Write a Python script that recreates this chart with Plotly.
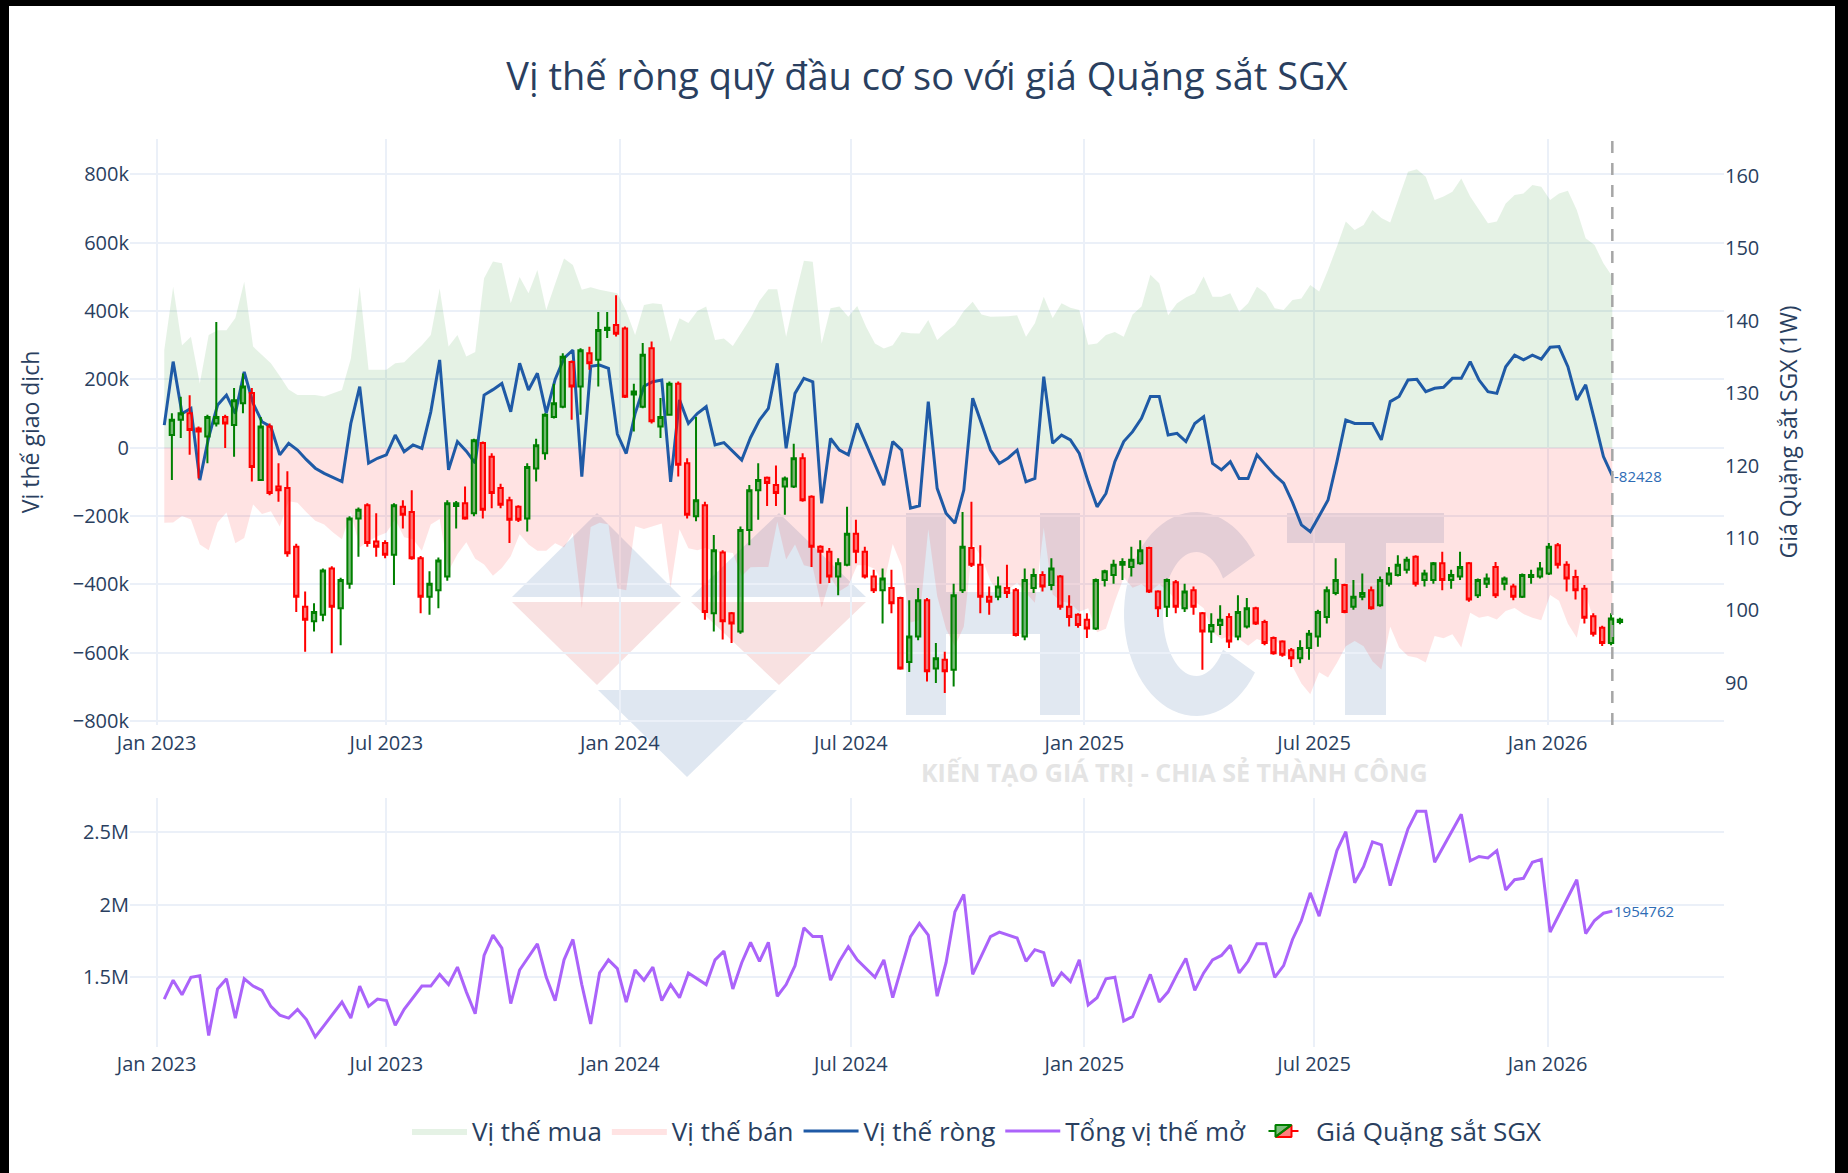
import numpy as np
import pandas as pd
import plotly.graph_objects as go

# ---------------- data ----------------
position_dates = pd.date_range("2023-01-07", periods=164, freq="7D")
candle_dates = pd.date_range("2023-01-13", periods=164, freq="7D")

long_pos = [
    286000, 471000, 300000, 325000, 188000, 330000, 344000, 344000, 380000, 486000,
    296000, 270000, 247000, 210000, 170000, 154000, 154000, 154000, 150000, 160000,
    169000, 260000, 471000, 228000, 228000, 228000, 247000, 250000, 276000, 300000,
    330000, 466000, 296000, 330000, 267000, 280000, 496000, 545000, 540000, 423000,
    500000, 452000, 520000, 403000, 480000, 554000, 535000, 462000, 470000, 462000,
    457000, 452000, 400000, 330000, 418000, 423000, 420000, 310000, 379000, 365000,
    400000, 413000, 315000, 320000, 298000, 340000, 380000, 430000, 464000, 464000,
    325000, 442000, 547000, 544000, 305000, 408000, 413000, 383000, 415000, 354000,
    305000, 290000, 300000, 339000, 335000, 334000, 374000, 315000, 339000, 360000,
    400000, 427000, 390000, 383000, 383000, 385000, 388000, 325000, 364000, 442000,
    380000, 423000, 410000, 403000, 301000, 305000, 330000, 339000, 325000, 390000,
    413000, 506000, 481000, 388000, 423000, 440000, 452000, 501000, 442000, 442000,
    452000, 398000, 423000, 471000, 452000, 408000, 403000, 432000, 437000, 476000,
    457000, 520000, 589000, 662000, 637000, 652000, 696000, 672000, 659000, 735000,
    808000, 815000, 793000, 725000, 735000, 749000, 788000, 735000, 696000, 657000,
    662000, 715000, 740000, 744000, 769000, 764000, 725000, 744000, 752000, 696000,
    613000, 593000, 540000, 501000,
]

short_pos = [
    -220000, -219000, -200000, -210000, -283000, -300000, -219000, -190000, -280000, -264000,
    -166000, -194000, -186000, -231000, -157000, -161000, -189000, -214000, -225000, -248000,
    -268000, -189000, -292000, -273000, -259000, -249000, -210000, -262000, -268000, -302000,
    -225000, -209000, -361000, -312000, -277000, -325000, -342000, -375000, -352000, -318000,
    -253000, -283000, -302000, -302000, -280000, -292000, -249000, -470000, -232000, -220000,
    -225000, -412000, -417000, -230000, -238000, -230000, -222000, -410000, -239000, -294000,
    -300000, -293000, -307000, -305000, -308000, -376000, -350000, -349000, -349000, -217000,
    -327000, -283000, -344000, -351000, -468000, -381000, -420000, -404000, -344000, -344000,
    -355000, -400000, -282000, -346000, -512000, -504000, -239000, -434000, -531000, -581000,
    -524000, -282000, -320000, -390000, -429000, -415000, -395000, -425000, -454000, -234000,
    -430000, -450000, -455000, -480000, -470000, -540000, -530000, -450000, -380000, -410000,
    -400000, -420000, -400000, -420000, -450000, -480000, -450000, -470000, -540000, -560000,
    -550000, -560000, -580000, -560000, -570000, -560000, -590000, -640000, -690000, -722000,
    -657000, -673000, -630000, -581000, -566000, -581000, -625000, -649000, -524000, -585000,
    -610000, -615000, -629000, -551000, -558000, -546000, -585000, -483000, -498000, -493000,
    -503000, -478000, -469000, -487000, -498000, -505000, -431000, -448000, -515000, -556000,
    -429000, -512000, -566000, -583000,
]

net_pos = [
    66000, 252000, 100000, 115000, -95000, 30000, 125000, 154000, 100000, 222000,
    130000, 76000, 61000, -21000, 13000, -7000, -35000, -60000, -75000, -88000,
    -99000, 71000, 179000, -45000, -31000, -21000, 37000, -12000, 8000, -2000,
    105000, 257000, -65000, 18000, -10000, -45000, 154000, 170000, 188000, 105000,
    247000, 169000, 218000, 101000, 200000, 262000, 286000, -85000, 238000, 242000,
    232000, 40000, -17000, 100000, 180000, 193000, 198000, -100000, 140000, 71000,
    100000, 120000, 8000, 15000, -10000, -36000, 30000, 81000, 115000, 247000,
    -2000, 159000, 203000, 193000, -163000, 27000, -7000, -21000, 71000, 10000,
    -50000, -110000, 18000, -7000, -177000, -170000, 135000, -119000, -192000, -221000,
    -124000, 145000, 70000, -7000, -46000, -30000, -7000, -100000, -90000, 208000,
    13000, 37000, 23000, -17000, -100000, -173000, -134000, -41000, 18000, 47000,
    86000, 150000, 150000, 37000, 42000, 18000, 71000, 91000, -46000, -65000,
    -41000, -90000, -90000, -21000, -51000, -80000, -104000, -160000, -226000, -246000,
    -200000, -153000, -41000, 81000, 71000, 71000, 71000, 23000, 135000, 150000,
    198000, 200000, 164000, 174000, 177000, 203000, 203000, 252000, 198000, 164000,
    159000, 237000, 271000, 257000, 271000, 259000, 294000, 296000, 237000, 140000,
    184000, 81000, -26000, -82428,
]

open_interest = [
    1350000, 1480000, 1380000, 1500000, 1510000, 1100000, 1420000, 1490000, 1220000, 1490000,
    1440000, 1410000, 1300000, 1240000, 1220000, 1280000, 1210000, 1090000, 1170000, 1250000,
    1330000, 1220000, 1440000, 1300000, 1350000, 1340000, 1170000, 1280000, 1360000, 1440000,
    1440000, 1520000, 1450000, 1570000, 1400000, 1250000, 1650000, 1790000, 1700000, 1320000,
    1550000, 1640000, 1730000, 1500000, 1340000, 1620000, 1760000, 1450000, 1180000, 1530000,
    1620000, 1560000, 1330000, 1550000, 1480000, 1570000, 1340000, 1450000, 1360000, 1530000,
    1490000, 1450000, 1620000, 1680000, 1420000, 1600000, 1740000, 1610000, 1740000, 1370000,
    1450000, 1580000, 1840000, 1780000, 1780000, 1480000, 1610000, 1710000, 1620000, 1560000,
    1500000, 1620000, 1360000, 1570000, 1780000, 1870000, 1790000, 1370000, 1600000, 1950000,
    2070000, 1520000, 1650000, 1780000, 1810000, 1790000, 1770000, 1610000, 1690000, 1670000,
    1440000, 1530000, 1470000, 1620000, 1310000, 1360000, 1490000, 1500000, 1200000, 1230000,
    1380000, 1520000, 1330000, 1400000, 1520000, 1630000, 1410000, 1530000, 1620000, 1650000,
    1720000, 1530000, 1610000, 1730000, 1730000, 1500000, 1580000, 1760000, 1890000, 2080000,
    1920000, 2150000, 2370000, 2500000, 2150000, 2260000, 2430000, 2410000, 2130000, 2330000,
    2520000, 2640000, 2640000, 2290000, 2400000, 2510000, 2620000, 2300000, 2330000, 2320000,
    2370000, 2100000, 2170000, 2180000, 2290000, 2310000, 1810000, 1930000, 2050000, 2170000,
    1800000, 1890000, 1940000, 1954762,
]

price_open = [
    124.2, 126.3, 127.2, 125.1, 124.0, 125.8, 126.7, 125.6, 128.6, 130.0,
    118.0, 125.4, 117.1, 116.9, 108.8, 100.5, 98.5, 99.4, 105.8, 100.3,
    103.7, 112.7, 114.5, 109.5, 109.3, 107.7, 114.3, 113.6, 107.2, 101.9,
    102.8, 104.7, 114.4, 114.8, 113.4, 123.1, 121.2, 116.9, 115.2, 114.3,
    112.7, 119.6, 121.7, 126.7, 128.1, 134.3, 130.9, 135.5, 134.6, 138.7,
    139.4, 138.9, 129.8, 128.1, 136.2, 125.4, 127.0, 131.3, 120.3, 113.0,
    114.5, 99.6, 108.0, 99.6, 97.1, 111.1, 116.6, 118.3, 117.3, 117.1,
    117.1, 121.0, 115.7, 108.8, 108.1, 104.7, 106.3, 110.6, 108.1, 104.7,
    102.8, 103.1, 101.7, 92.9, 96.4, 101.4, 92.0, 93.2, 91.8, 102.8,
    108.6, 106.3, 101.9, 101.9, 103.1, 102.8, 96.4, 103.1, 104.9, 103.5,
    104.7, 100.5, 99.4, 98.7, 97.5, 104.2, 104.9, 106.3, 106.0, 106.5,
    108.6, 102.6, 100.5, 103.9, 100.3, 102.8, 99.6, 97.1, 98.0, 99.1,
    96.4, 97.8, 100.3, 98.4, 96.2, 95.7, 94.5, 93.4, 94.8, 96.4,
    99.1, 102.4, 103.5, 100.5, 101.9, 102.8, 100.7, 103.7, 104.9, 105.6,
    107.4, 104.2, 104.2, 106.5, 104.2, 104.7, 106.5, 102.1, 103.7, 106.0,
    103.7, 103.3, 101.9, 104.6, 104.7, 105.1, 109.0, 106.3, 104.6, 103.0,
    99.2, 97.6, 95.5, 98.4,
]
price_high = [
    127.2, 129.5, 129.7, 125.4, 127.0, 139.8, 127.0, 130.7, 132.7, 130.7,
    126.7, 125.8, 120.3, 119.2, 109.2, 102.6, 101.0, 105.8, 106.1, 104.5,
    113.0, 114.2, 114.8, 113.4, 109.7, 114.8, 115.2, 116.6, 107.5, 105.4,
    107.3, 115.2, 115.1, 117.1, 123.7, 123.3, 121.7, 117.5, 115.7, 114.5,
    120.3, 123.7, 127.2, 131.3, 135.5, 134.5, 136.2, 136.4, 141.2, 141.2,
    143.5, 139.2, 131.3, 136.9, 137.1, 129.3, 131.6, 131.6, 121.0, 126.7,
    115.0, 110.4, 108.3, 99.8, 111.6, 117.3, 120.3, 118.5, 120.0, 118.5,
    123.0, 121.7, 115.9, 109.0, 108.6, 107.2, 114.3, 112.5, 108.8, 105.6,
    105.8, 105.6, 101.9, 101.4, 103.1, 101.7, 95.5, 94.3, 103.7, 113.6,
    115.0, 109.0, 103.3, 104.7, 106.3, 103.1, 105.8, 105.8, 105.4, 107.2,
    104.9, 102.1, 99.6, 99.6, 104.4, 105.6, 107.0, 107.2, 108.8, 109.7,
    108.8, 102.8, 104.4, 104.2, 103.7, 103.3, 99.8, 99.6, 100.7, 99.6,
    102.1, 101.7, 100.5, 98.7, 96.4, 95.9, 94.8, 95.9, 97.3, 100.1,
    103.3, 107.2, 103.7, 104.2, 105.1, 103.3, 104.7, 106.0, 107.6, 107.4,
    107.6, 105.6, 106.7, 108.1, 105.6, 108.1, 106.7, 104.4, 105.1, 106.7,
    104.7, 103.7, 105.1, 105.6, 106.7, 109.3, 109.3, 106.8, 105.6, 103.5,
    99.6, 97.9, 99.6, 99.0,
]
price_low = [
    118.0, 123.8, 121.5, 118.2, 120.3, 125.4, 122.4, 121.2, 127.2, 117.8,
    118.0, 115.9, 115.0, 107.4, 99.8, 94.3, 97.1, 98.5, 94.1, 95.2,
    103.0, 107.4, 108.8, 107.4, 107.2, 103.5, 111.3, 107.0, 99.6, 99.4,
    100.3, 104.1, 111.3, 112.5, 113.0, 112.7, 114.1, 114.1, 109.3, 112.2,
    110.9, 117.8, 120.8, 126.5, 127.9, 126.3, 127.0, 133.2, 130.9, 137.6,
    137.8, 129.3, 124.7, 127.9, 125.8, 123.8, 126.9, 118.5, 112.7, 112.3,
    98.7, 97.1, 96.0, 95.5, 96.8, 109.0, 112.5, 114.4, 114.4, 113.2,
    116.9, 115.0, 106.0, 103.7, 103.8, 102.1, 106.1, 106.5, 104.4, 102.4,
    98.2, 99.6, 91.8, 91.5, 95.9, 90.2, 90.0, 88.6, 89.5, 102.4,
    106.0, 99.6, 99.4, 101.4, 101.7, 96.4, 95.9, 102.4, 102.6, 102.8,
    100.1, 97.8, 97.6, 96.2, 97.3, 103.3, 103.7, 104.2, 104.7, 106.3,
    102.4, 99.1, 99.1, 99.6, 99.8, 99.4, 91.8, 95.5, 96.6, 94.8,
    95.9, 97.5, 98.0, 95.2, 93.9, 93.6, 92.2, 92.7, 93.2, 95.0,
    98.2, 102.1, 99.6, 100.1, 101.4, 100.1, 100.5, 103.3, 104.7, 105.1,
    103.3, 103.3, 103.7, 102.8, 103.0, 104.2, 101.2, 101.7, 103.1, 101.7,
    102.8, 101.4, 101.7, 103.7, 104.4, 104.9, 105.8, 102.6, 101.5, 98.2,
    96.4, 95.1, 95.2, 98.1,
]
price_close = [
    126.3, 127.2, 124.9, 124.7, 126.7, 126.7, 125.8, 129.0, 130.9, 119.8,
    125.4, 116.2, 116.6, 107.9, 101.9, 98.7, 99.8, 105.5, 100.5, 104.2,
    112.7, 113.9, 109.3, 108.8, 107.7, 114.5, 113.2, 107.2, 101.9, 103.7,
    106.9, 114.8, 114.8, 112.7, 123.5, 113.9, 116.2, 114.6, 112.5, 112.5,
    119.8, 122.8, 127.0, 128.6, 135.0, 130.9, 135.9, 134.1, 138.7, 139.0,
    138.2, 129.5, 130.2, 135.3, 126.1, 126.7, 131.3, 120.1, 113.2, 115.2,
    99.8, 108.3, 98.5, 98.2, 111.1, 116.6, 118.0, 117.6, 116.2, 118.2,
    121.0, 115.2, 108.8, 108.1, 104.7, 106.5, 110.6, 108.1, 104.7, 102.8,
    104.4, 101.0, 92.0, 96.4, 101.4, 91.6, 93.4, 91.6, 102.1, 108.8,
    106.3, 101.9, 101.2, 103.3, 102.4, 96.6, 104.2, 104.9, 103.3, 105.8,
    100.5, 99.1, 98.0, 97.5, 104.2, 105.4, 106.3, 106.7, 107.0, 108.3,
    102.6, 100.3, 104.2, 100.5, 102.6, 100.5, 97.1, 98.0, 98.7, 95.7,
    99.8, 100.3, 98.2, 95.5, 94.1, 93.9, 93.4, 94.8, 96.8, 99.8,
    102.8, 104.2, 99.8, 101.9, 102.4, 100.3, 104.2, 105.1, 106.3, 107.0,
    103.7, 105.1, 106.5, 104.2, 104.9, 106.0, 101.5, 104.2, 104.4, 102.1,
    104.4, 101.9, 104.9, 104.9, 105.8, 108.8, 106.3, 104.4, 102.8, 99.0,
    96.8, 95.5, 98.9, 98.7,
]

# ---------------- geometry helpers (pixel -> paper) ----------------
W, H = 1848, 1173
ML, MR, MT, MB = 130, 124, 139, 126
PW = W - ML - MR
PH = H - MT - MB


def px(x):
    return (x - ML) / PW


def py(y):
    return (H - MB - y) / PH


TXT = "#2a3f5f"
GRID = "#EBF0F8"

fig = go.Figure()

fig.add_trace(go.Scatter(
    x=position_dates, y=long_pos, name="Vị thế mua", mode="lines",
    line=dict(width=0, color="rgba(0,128,0,0.1)"),
    fill="tozeroy", fillcolor="rgba(0,128,0,0.1)", xaxis="x", yaxis="y"))
fig.add_trace(go.Scatter(
    x=position_dates, y=short_pos, name="Vị thế bán", mode="lines",
    line=dict(width=0, color="rgba(255,0,0,0.11)"),
    fill="tozeroy", fillcolor="rgba(255,0,0,0.11)", xaxis="x", yaxis="y"))
fig.add_trace(go.Scatter(
    x=position_dates, y=net_pos, name="Vị thế ròng", mode="lines",
    line=dict(width=3, color="#1f5aa6"), xaxis="x", yaxis="y"))
fig.add_trace(go.Scatter(
    x=position_dates, y=open_interest, name="Tổng vị thế mở", mode="lines",
    line=dict(width=3, color="#ab63fa"), xaxis="x2", yaxis="y3"))
fig.add_trace(go.Candlestick(
    x=candle_dates, open=price_open, high=price_high, low=price_low, close=price_close,
    name="Giá Quặng sắt SGX",
    increasing=dict(line=dict(color="green", width=2)),
    decreasing=dict(line=dict(color="red", width=2)),
    xaxis="x", yaxis="y2"))

x_range = ["2022-12-11", "2026-05-20"]
tickfont = dict(size=20, color=TXT)

shapes = []
# vertical dashed marker at the last position date
shapes.append(dict(type="line", xref="x", yref="y domain",
                   x0=position_dates[-1], x1=position_dates[-1], y0=0, y1=1,
                   line=dict(color="#a6a6a6", width=2.5, dash="12px,10px"), layer="above"))

# watermark (decorative logo)
BLUE_WM = "#dfe7f1"
PINK_WM = "#f8e1e1"


def poly(points, color):
    d = "M " + " L ".join(f"{px(a):.5f},{py(b):.5f}" for a, b in points) + " Z"
    return dict(type="path", xref="paper", yref="paper", path=d,
                fillcolor=color, line=dict(width=0), layer="below")


shapes.append(poly([(512, 597), (681, 597), (597, 513)], BLUE_WM))
shapes.append(poly([(691, 597), (866, 597), (779, 513)], BLUE_WM))
shapes.append(poly([(512, 602), (681, 602), (597, 685)], PINK_WM))
shapes.append(poly([(691, 602), (866, 602), (779, 685)], PINK_WM))
shapes.append(poly([(598, 690), (777, 690), (687, 777)], BLUE_WM))
LET = "#e1e8f1"
for (xa, ya, xb, yb) in [(906, 513, 946, 715), (1040, 513, 1080, 715), (946, 592, 1040, 634),
                         (1287, 513, 1444, 543), (1345, 543, 1386, 715)]:
    shapes.append(poly([(xa, ya), (xb, ya), (xb, yb), (xa, yb)], LET))
t_out = np.radians(np.linspace(35, 325, 60))
t_in = np.radians(np.linspace(325, 35, 60))
c_pts = [(1196 + 72 * np.cos(t), 614 - 102 * np.sin(t)) for t in t_out] + \
        [(1196 + 33 * np.cos(t), 614 - 62 * np.sin(t)) for t in t_in]
shapes.append(poly(c_pts, LET))

# black frame
for (xa, ya, xb, yb) in [(0, 0, 9, H), (1835, 0, W, H), (0, 0, W, 6)]:
    shapes.append(dict(type="rect", xref="paper", yref="paper",
                       x0=px(xa), x1=px(xb), y0=py(yb), y1=py(ya),
                       fillcolor="black", line=dict(width=0), layer="above"))

annotations = [
    dict(x=position_dates[-1], y=net_pos[-1], xref="x", yref="y", text="-82428",
         showarrow=False, xanchor="left", yanchor="middle",
         font=dict(size=15, color="#2e6cb5")),
    dict(x=position_dates[-1], y=open_interest[-1], xref="x2", yref="y3", text="1954762",
         showarrow=False, xanchor="left", yanchor="middle",
         font=dict(size=15, color="#2e6cb5")),
    dict(x=px(1174), y=py(772), xref="paper", yref="paper",
         text="<b>KIẾN TẠO GIÁ TRỊ - CHIA SẺ THÀNH CÔNG</b>", showarrow=False,
         xanchor="center", yanchor="middle",
         font=dict(size=25, color="#e4e4e4", family="Open Sans")),
]

fig.update_layout(
    template="plotly_white",
    width=W, height=H,
    margin=dict(l=ML, r=MR, t=MT, b=MB),
    font=dict(family="Open Sans, Arial, sans-serif", color=TXT),
    title=dict(text="Vị thế ròng quỹ đầu cơ so với giá Quặng sắt SGX",
               x=0.5, xref="paper", xanchor="center",
               y=1 - 77 / H, yref="container", yanchor="middle",
               font=dict(size=38, color=TXT)),
    xaxis=dict(domain=[0, 1], anchor="y", type="date", range=x_range,
               dtick="M6", tick0="2023-01-01", tickformat="%b %Y",
               tickfont=tickfont, gridcolor=GRID, gridwidth=2, ticklabelstandoff=4,
               rangeslider=dict(visible=False), showline=False),
    yaxis=dict(domain=[py(725), 1], range=[-811700, 903600], dtick=200000,
               tickfont=tickfont, gridcolor=GRID, gridwidth=2,
               zerolinecolor=GRID, zerolinewidth=2,
               title=dict(text="Vị thế giao dịch", font=dict(size=23, color=TXT), standoff=26)),
    yaxis2=dict(overlaying="y", side="right", anchor="x", range=[84.19, 165.06], dtick=10,
                showgrid=False, zeroline=False, tickfont=tickfont,
                title=dict(text="Giá Quặng sắt SGX (1W)", font=dict(size=23, color=TXT), standoff=22)),
    xaxis2=dict(domain=[0, 1], anchor="y3", type="date", range=x_range,
                dtick="M6", tick0="2023-01-01", tickformat="%b %Y",
                tickfont=tickfont, gridcolor=GRID, gridwidth=2, ticklabelstandoff=3,
                showline=False),
    yaxis3=dict(domain=[0, py(798)], range=[1021300, 2731500], dtick=500000,
                tickfont=tickfont, gridcolor=GRID, gridwidth=2, zeroline=False),
    legend=dict(orientation="h", x=px(977), xanchor="center", y=py(1131), yanchor="middle",
                font=dict(size=26, color=TXT), itemwidth=55, bgcolor="rgba(0,0,0,0)"),
    shapes=shapes,
    annotations=annotations,
    showlegend=True,
)

fig.write_html("out.html", config={"displayModeBar": False},
               post_script="document.body.style.margin='0';")
